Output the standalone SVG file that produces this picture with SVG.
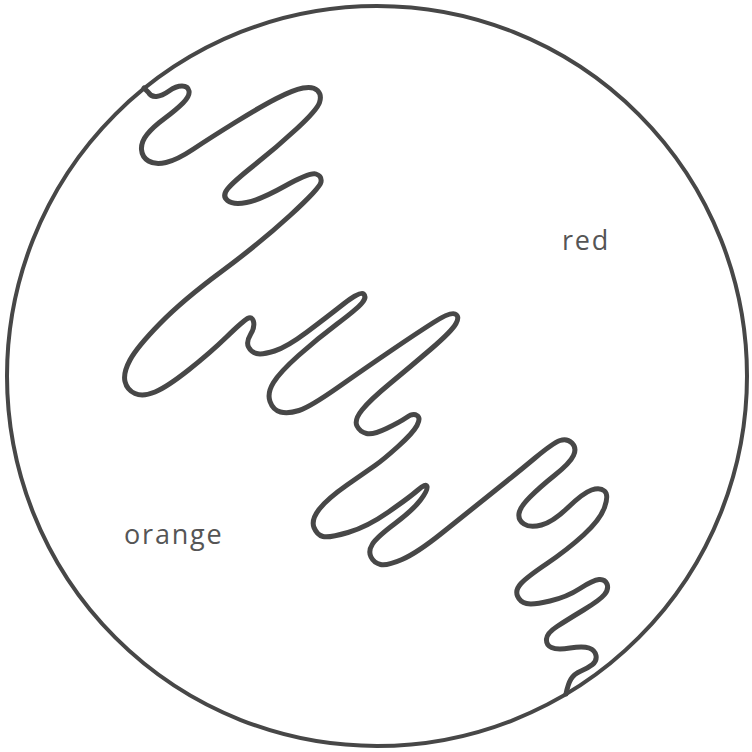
<svg xmlns="http://www.w3.org/2000/svg" width="752" height="752" viewBox="0 0 752 752">
<style>
.ln{fill:none;stroke:#474747;stroke-width:5;stroke-linecap:round;stroke-linejoin:round}
.lb{font-family:"Open Sans","DejaVu Sans",sans-serif;font-size:27px;letter-spacing:1.8px;fill:#555555}
</style>
<rect width="752" height="752" fill="#ffffff"/>
<g id="disc">
<circle class="ln" cx="377" cy="376" r="370" style="stroke-width:4"/>
</g>
<g id="boundary">
<path class="ln" d="M 144 88 L 148.5 92.5 Q 151 97 156.5 96.5 Q 162 96 169 91 Q 176 86 182 86 Q 188 86 189 91 Q 190 96 183 103 Q 176 110 164.5 118.5 Q 153 127 147 134.5 Q 141 142 141.5 149.5 Q 142 157 148.5 161 Q 155 165 166 162.5 Q 177 160 193.5 149 Q 210 138 235 122.5 Q 260 107 276.5 98.5 Q 293 90 303 88 Q 313 86 317.5 90.5 Q 322 95 319.5 102.5 Q 317 110 297 128.5 Q 277 147 255 164.5 Q 233 182 227.5 189 Q 222 196 227.5 200.5 Q 233 205 246.5 202.5 Q 260 200 285 186 Q 310 172 316 174 Q 322 176 321 182 Q 320 188 290 215.5 Q 260 243 221.5 271.5 Q 183 300 160 323.5 Q 137 347 130 360 Q 123 373 125 381.5 Q 127 390 135 393.5 Q 143 397 155 392 Q 167 387 188.5 370 Q 210 353 226.5 337 Q 243 321 247.5 318.5 Q 252 316 253.5 321.5 Q 255 327 250.5 334.5 Q 246 342 248.5 347 Q 251 352 256.5 353.5 Q 262 355 274.5 351 Q 287 347 307 332 Q 327 317 343.5 304 Q 360 291 363.5 294 Q 367 297 362 303 Q 357 309 337 324 Q 317 339 298.5 355.5 Q 280 372 273.5 382.5 Q 267 393 270 401.5 Q 273 410 280.5 412 Q 288 414 299 410.5 Q 310 407 338.5 387 Q 367 367 392 350 Q 417 333 433.5 322.5 Q 450 312 455 314 Q 460 316 456 323.5 Q 452 331 431 349 Q 410 367 390 383.5 Q 370 400 362 410 Q 354 420 357 426 Q 360 432 366.5 433.5 Q 373 435 386.5 428.5 Q 400 422 406.5 417.5 Q 413 413 417 415.5 Q 421 418 417 425.5 Q 413 433 398 446.5 Q 383 460 375 465.5 Q 367 471 347 485 Q 327 499 319 509.5 Q 311 520 314 527.5 Q 317 535 323 536.5 Q 329 538 348 532.5 Q 367 527 388.5 512 Q 410 497 418 490 Q 426 483 427 486.5 Q 428 490 420.5 500 Q 413 510 395 523.5 Q 377 537 372.5 544 Q 368 551 371 557 Q 374 563 380.5 564.5 Q 387 566 402 559.5 Q 417 553 442 533 Q 467 513 492 493 Q 517 473 535 458 Q 553 443 560 440.5 Q 567 438 572 443 Q 577 448 573.5 455.5 Q 570 463 555 475 Q 540 487 530 497 Q 520 507 519 513.5 Q 518 520 524 524 Q 530 528 541.5 525 Q 553 522 568 507.5 Q 583 493 591.5 490 Q 600 487 604.5 491 Q 609 495 604.5 507.5 Q 600 520 583.5 535 Q 567 550 547 563.5 Q 527 577 521 583.5 Q 515 590 517.5 596 Q 520 602 526.5 603.5 Q 533 605 550 601 Q 567 597 580 588.5 Q 593 580 599 579.5 Q 605 579 607 584 Q 609 589 604.5 594.5 Q 600 600 583.5 610 Q 567 620 557 626.5 Q 547 633 546.5 639 Q 546 645 551.5 647.5 Q 557 650 570 648 Q 583 646 589 648 Q 595 650 596 655.5 Q 597 661 592.5 664.5 Q 588 668 581 671 Q 574 674 571 679 Q 568 684 566 694"/>
</g>
<g id="label-red">
<text class="lb" x="562" y="250">red</text>
</g>
<g id="label-orange">
<text class="lb" x="124" y="544">orange</text>
</g>
</svg>
